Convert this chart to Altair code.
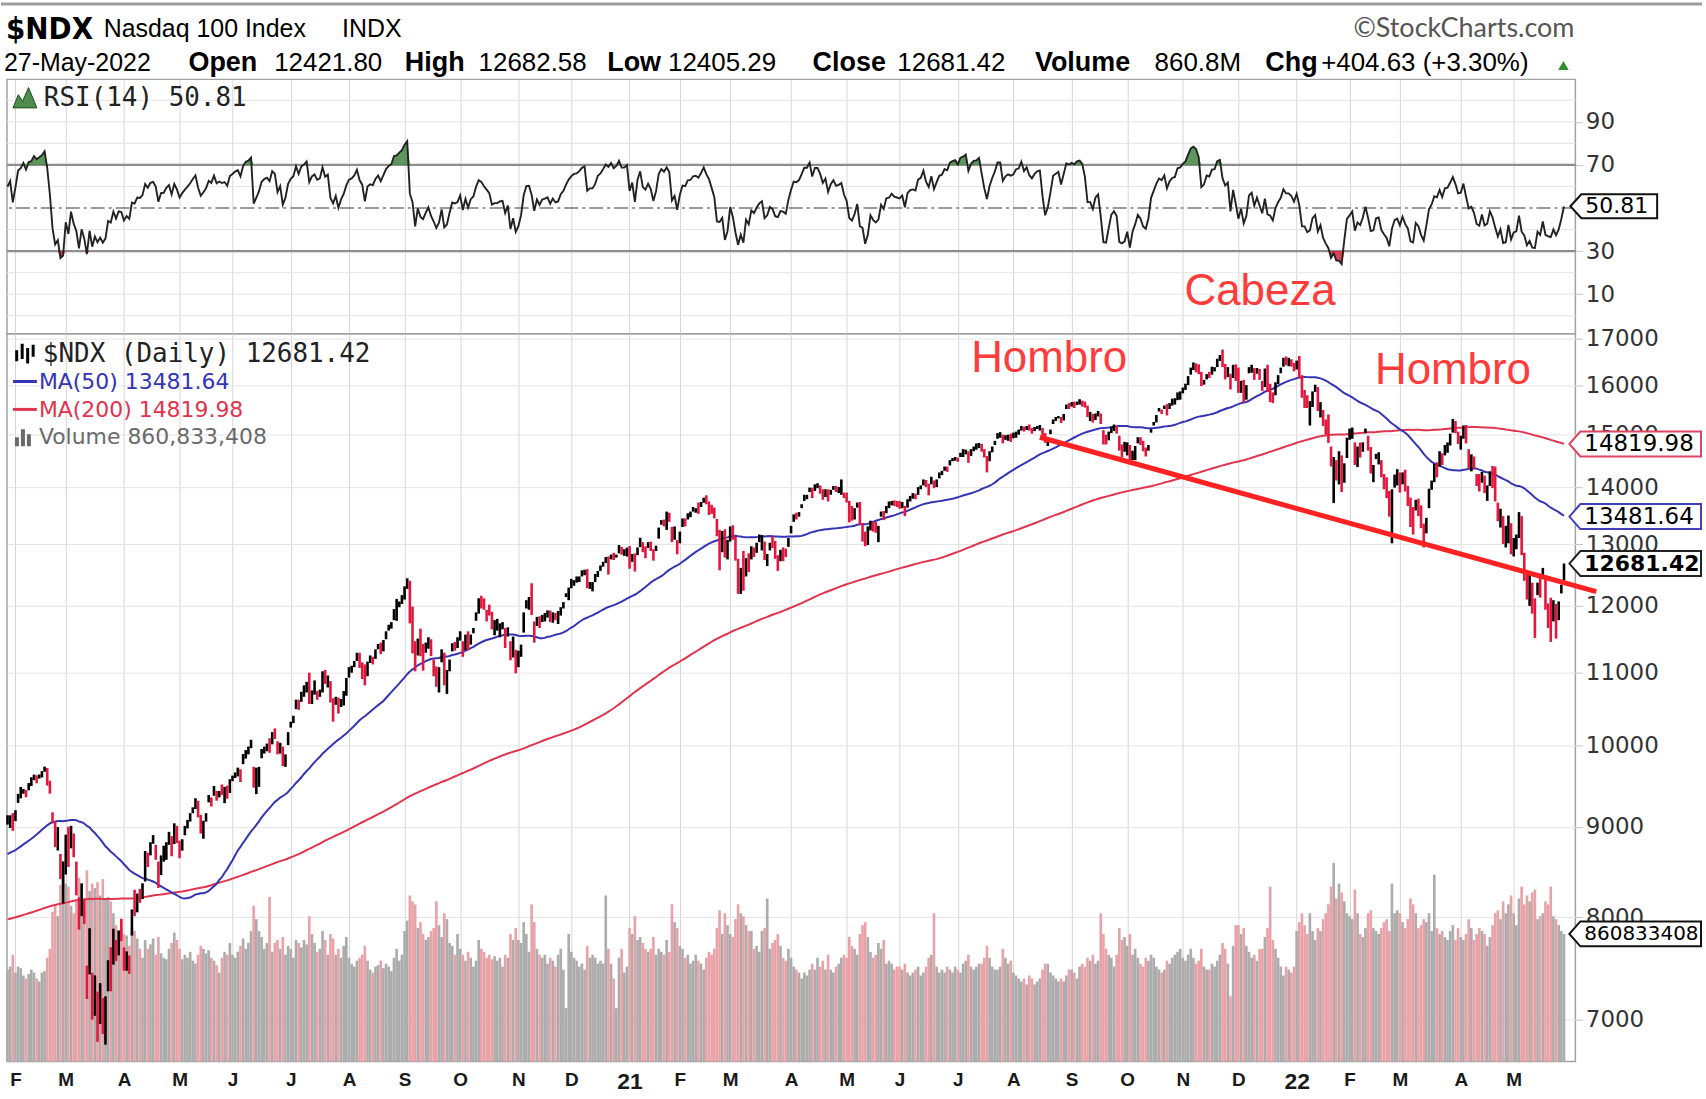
import altair as alt
import numpy as np
import pandas as pd

# ---------------- data (read / estimated from the reference) ----------------
# daily closes before the first visible bar (only used to warm up MA(50), MA(200), RSI(14))
CLOSE_PRE = [
    7485, 7518, 7576, 7570, 7602, 7614, 7567, 7602, 7596, 7628, 7624, 7646, 7637, 7658, 7678, 7785, 7758, 7780, 7827, 7846, 7781,
    7720, 7690, 7845, 7780, 7580, 7560, 7520, 7555, 7290, 7380, 7470, 7560, 7470, 7340, 7430, 7375, 7270, 7265, 7250, 7195, 7220, 7127,
    6978, 7166, 7250, 7300, 7420, 7490, 7500, 7470, 7510, 7470, 7520, 7620, 7650, 7730, 7700, 7680, 7560, 7620, 7650, 7671,
    7790, 7820, 7890, 7880, 7870, 7910, 7970, 7970, 8000, 8010, 7980, 7940, 7970, 7870, 7940, 7990, 8040, 7970, 8060, 8010, 7960, 7848,
    7800, 7700, 7460, 7570, 7600, 7770, 7720, 7630, 7780, 7540, 7560, 7680, 7780, 7720, 7790, 7770, 7530, 7620, 7600, 7620, 7720, 7692,
    7620, 7730, 7860, 7860, 7840, 7860, 7920, 7950, 7930, 7900, 7930, 7930, 7930, 7830, 7830, 7710, 7790, 7750, 7700, 7750,
    7650, 7530, 7630, 7750, 7720, 7590, 7680, 7720, 7810, 7800, 7900, 7880, 7910, 7840, 7890, 7830, 7850, 7920, 7970, 8050, 8020, 8040, 8083,
    8160, 8190, 8180, 8170, 8200, 8230, 8220, 8240, 8250, 8270, 8320, 8330, 8350, 8300, 8290, 8300, 8390, 8410, 8440, 8403,
    8310, 8250, 8300, 8310, 8390, 8360, 8380, 8420, 8440, 8480, 8570, 8570, 8570, 8640, 8680, 8700, 8700, 8770, 8760, 8680, 8733,
    8872, 8793, 8848, 8846, 8935, 9030, 9010, 9100, 9050, 9070, 9170, 9174, 9180, 9190, 9210, 9130, 8950, 9070,
]

# visible daily bars, 29-Jan-2020 .. 27-May-2022 (one line per month)
CLOSE = [
    9075, 9125, 8991,
    9126, 9334, 9368, 9445, 9402, 9517, 9529, 9613, 9595, 9623, 9656, 9718, 9627, 9446, 9080, 8804, 8845, 8436, 8462,
    8877, 8620, 9000, 8720, 8530, 7950, 8340, 7990, 7270, 7875, 7020, 7335, 7010, 7150, 6879, 6995, 7553, 7483, 7860, 7585, 7832, 7813,
    7490, 7630, 7530, 8060, 8030, 8240, 8230, 8320, 8710, 8620, 8800, 8832, 8730, 8380, 8640, 8650, 8800, 8880, 8690, 9000, 8890,
    8718, 8834, 8930, 9010, 9100, 9220, 9320, 9120, 8980, 9060, 9150, 9330, 9300, 9480, 9370, 9410, 9390, 9410, 9365, 9555,
    9600, 9650, 9680, 9620, 9824, 9925, 9950, 10020, 9490, 9590, 9710, 9900, 9960, 9990, 9950, 10160, 10130, 9910, 10020, 9760, 9880, 10160,
    10280, 10340, 10600, 10500, 10710, 10760, 10850, 10580, 10720, 10770, 10700, 10730, 11000, 10880, 10930, 10600, 10510, 10650, 10450, 10610, 10720, 10905,
    11040, 11070, 11140, 11280, 11150, 11090, 10850, 11150, 11200, 11190, 11320, 11400, 11330, 11460, 11600, 11680, 11720, 11940, 11960, 12040, 12110,
    12290, 12420, 11770, 11620, 11080, 11470, 11250, 11190, 11330, 11450, 11250, 11110, 10940, 11040, 11310, 10840, 10900, 11160, 11410, 11390, 11420,
    11580, 11270, 11540, 11340, 11550, 11620, 11890, 12090, 12060, 11980, 11920, 11860, 11650, 11680, 11680, 11710, 11720, 11530, 11650, 11200, 11380, 11052,
    11150, 11350, 11800, 12050, 12060, 11890, 11540, 11820, 11700, 11830, 11850, 11880, 11760, 11870, 11800, 11820, 11960, 12030, 12160, 12270,
    12350, 12400, 12410, 12460, 12530, 12560, 12300, 12340, 12340, 12410, 12550, 12590, 12670, 12760, 12740, 12810, 12770, 12810, 12900, 12850, 12850, 12888,
    12695, 12800, 12620, 12940, 13105, 12930, 12900, 13000, 12940, 12800, 12950, 13280, 13400, 13370, 13470, 13420, 13060, 13140, 12925,
    13200, 13400, 13390, 13520, 13530, 13610, 13620, 13600, 13690, 13807, 13740, 13690, 13600, 13500, 13160, 13150, 13200, 12800, 12910,
    13280, 13100, 12740, 12380, 12550, 12300, 12750, 12620, 12940, 12870, 13000, 13100, 13150, 12760, 12820, 13000, 12960, 12800, 12780, 12890, 12880, 12840, 13090,
    13300, 13500, 13490, 13540, 13680, 13850, 13850, 13990, 13820, 14040, 14040, 13970, 13860, 13950, 13780, 13930, 14010, 13940, 13960, 13990, 13860,
    13780, 13540, 13500, 13580, 13720, 13360, 13330, 12980, 13100, 13400, 13310, 13260, 13300, 13540, 13470, 13660, 13670, 13740, 13700, 13690,
    13680, 13720, 13580, 13780, 13830, 13840, 13830, 13990, 14020, 14140, 14040, 13990, 14160, 14030, 14140, 14250, 14270, 14370, 14360, 14500, 14530, 14550,
    14520, 14640, 14660, 14700, 14590, 14700, 14750, 14760, 14800, 14700, 14590, 14500, 14650, 14760, 14860, 15020, 15020, 14870, 14940, 14970, 14960,
    14980, 15050, 15060, 15160, 15100, 15150, 15100, 15080, 15130, 15160, 15170, 15010, 14850, 14920, 15070, 15290, 15320, 15350, 15250, 15400, 15590, 15580,
    15610, 15600, 15650, 15660, 15640, 15560, 15360, 15360, 15300, 15410, 15440, 15230, 14870, 14860, 15000, 15150, 15190, 15130, 14700, 14670, 14690,
    14790, 14470, 14660, 14760, 14890, 14830, 14690, 14650, 14780, 15100, 15230, 15380, 15490, 15470, 15570, 15410, 15550, 15620, 15640, 15830, 15850,
    15930, 15990, 16160, 16350, 16400, 16380, 16310, 16000, 16050, 16220, 16210, 16350, 16360, 16540, 16570, 16390, 16310, 16360, 15990, 16370, 16140,
    15850, 16040, 15710, 15850, 16330, 16400, 16120, 16330, 16150, 15960, 16330, 15920, 15880, 15750, 16050, 16200, 16320, 16570, 16480, 16480, 16430, 16320,
    16500, 16280, 15760, 15750, 15590, 15620, 15850, 15910, 15490, 15610, 15230, 15030, 14860, 14440, 14520, 14180, 14180, 14010, 14440, 14930,
    15020, 15120, 14500, 14710, 14620, 14810, 15110, 14760, 14280, 14300, 14620, 14640, 14210, 14040, 13890, 13540, 13960, 14200, 14240,
    14010, 14240, 14000, 13840, 13320, 13270, 13760, 13640, 13300, 13050, 13440, 13960, 14120, 14420, 14390, 14660, 14460, 14790, 14810, 15010, 15240, 15070, 14840,
    14860, 15170, 14850, 14520, 14570, 14400, 14050, 13990, 14270, 13920, 13960, 14280, 14100, 13770, 13430, 13600, 13030, 13050, 13480, 12855,
    13050, 13080, 13530, 12860, 12680, 12160, 12280, 11900, 11880, 12330, 12180, 12590, 11960, 11880, 11850, 12060, 11810, 11970, 12276.79, 12681.42,
]

# daily high minus close
HIGH_OFF = [
    60, 10, 170,
    70, 60, 110, 10, 40, 10, 70, 20, 30, 10, 20, 15, 90, 110, 90, 250, 150, 250, 140,
    30, 380, 10, 200, 70, 260, 20, 200, 240, 10, 420, 80, 250, 190, 320, 220, 10, 210, 20, 180, 30, 170,
    200, 20, 80, 20, 260, 10, 70, 40, 10, 80, 20, 70, 60, 220, 30, 130, 20, 60, 200, 40, 120,
    120, 20, 80, 70, 60, 10, 20, 190, 160, 10, 10, 50, 50, 10, 60, 20, 120, 70, 130, 20,
    20, 10, 40, 80, 70, 20, 40, 60, 240, 130, 20, 60, 30, 40, 150, 20, 100, 150, 20, 230, 10, 20,
    40, 60, 20, 120, 20, 60, 20, 420, 30, 120, 40, 30, 20, 160, 30, 280, 130, 10, 200, 20, 20, 20,
    40, 30, 30, 10, 140, 60, 270, 10, 50, 40, 20, 20, 110, 20, 10, 30, 30, 10, 150, 30, 60,
    20, 20, 630, 370, 380, 30, 400, 230, 110, 70, 240, 80, 150, 40, 30, 450, 140, 30, 20, 60, 100,
    30, 190, 20, 270, 10, 40, 10, 30, 100, 140, 20, 160, 260, 100, 120, 20, 30, 130, 20, 260, 150, 280,
    170, 60, 100, 40, 80, 470, 220, 10, 140, 30, 40, 50, 170, 30, 90, 100, 20, 30, 40, 20,
    80, 10, 60, 10, 40, 20, 290, 40, 40, 100, 10, 60, 40, 30, 60, 20, 90, 20, 90, 110, 70, 60,
    280, 40, 230, 10, 10, 110, 70, 40, 110, 120, 30, 10, 20, 60, 100, 130, 240, 170, 150,
    20, 50, 60, 20, 40, 40, 10, 130, 50, 10, 120, 60, 90, 140, 280, 100, 30, 460, 170,
    30, 230, 390, 380, 60, 590, 20, 230, 30, 80, 30, 70, 10, 290, 20, 30, 180, 260, 40, 20, 70, 90, 20,
    20, 20, 60, 20, 20, 20, 20, 10, 180, 20, 40, 70, 110, 20, 190, 30, 20, 90, 50, 160, 50,
    130, 220, 170, 50, 10, 380, 40, 240, 210, 10, 80, 130, 20, 30, 110, 10, 80, 20, 70, 70,
    80, 20, 90, 10, 20, 60, 60, 20, 20, 10, 100, 80, 40, 100, 10, 30, 40, 20, 30, 10, 20, 20,
    40, 10, 60, 10, 90, 20, 20, 70, 40, 120, 130, 90, 30, 10, 20, 10, 30, 130, 50, 30, 60,
    60, 10, 40, 10, 60, 20, 100, 50, 20, 10, 20, 120, 180, 30, 30, 10, 30, 20, 100, 10, 10, 50,
    40, 60, 10, 50, 40, 100, 220, 90, 110, 10, 30, 190, 220, 140, 60, 10, 10, 40, 280, 140, 170,
    60, 330, 30, 20, 60, 120, 190, 100, 20, 10, 20, 10, 40, 30, 10, 200, 80, 100, 90, 20, 20,
    20, 40, 30, 20, 80, 80, 130, 280, 60, 10, 70, 40, 20, 20, 70, 370, 140, 20, 250, 60, 300,
    520, 50, 400, 150, 50, 30, 240, 30, 190, 130, 20, 510, 150, 100, 10, 10, 50, 10, 130, 100, 120, 150,
    20, 340, 450, 150, 200, 50, 20, 100, 470, 40, 260, 270, 540, 330, 50, 330, 500, 590, 10, 10,
    100, 20, 350, 60, 230, 40, 10, 220, 480, 120, 10, 20, 300, 210, 300, 400, 10, 40, 100,
    270, 40, 330, 190, 500, 380, 20, 160, 380, 310, 20, 20, 10, 20, 80, 20, 180, 10, 40, 10, 70, 200, 220,
    120, 10, 340, 200, 50, 180, 200, 260, 20, 300, 80, 20, 300, 620, 300, 20, 460, 270, 20, 510,
    60, 90, 30, 630, 180, 350, 260, 470, 240, 40, 270, 20, 530, 160, 280, 30, 220, 100, 60, 1.16,
]

# daily close minus low
LOW_OFF = [
    50, 140, 40,
    60, 50, 30, 50, 50, 80, 40, 50, 70, 40, 60, 50, 130, 50, 40, 40, 120, 30, 320,
    420, 80, 250, 70, 300, 80, 330, 60, 80, 450, 20, 300, 210, 190, 10, 220, 290, 220, 340, 30, 220, 60,
    30, 170, 100, 250, 20, 190, 80, 130, 330, 80, 130, 30, 110, 70, 190, 50, 180, 90, 30, 200, 80,
    80, 110, 30, 30, 40, 60, 110, 10, 60, 200, 90, 40, 60, 110, 60, 60, 10, 130, 30, 150,
    50, 60, 70, 80, 60, 90, 60, 50, 20, 200, 230, 60, 60, 60, 40, 140, 40, 20, 120, 20, 150, 150,
    40, 40, 110, 20, 120, 100, 130, 20, 160, 80, 80, 70, 280, 40, 140, 20, 190, 100, 20, 90, 180, 230,
    110, 70, 60, 110, 80, 180, 30, 200, 60, 70, 120, 60, 60, 150, 110, 60, 70, 160, 190, 60, 80,
    190, 150, 40, 340, 60, 220, 10, 160, 40, 100, 10, 160, 140, 320, 160, 20, 200, 140, 100, 70, 60,
    110, 40, 210, 10, 140, 40, 120, 210, 100, 40, 160, 10, 10, 130, 60, 190, 80, 170, 120, 20, 160, 60,
    70, 120, 210, 90, 120, 30, 100, 130, 40, 80, 90, 60, 10, 130, 20, 100, 110, 70, 20, 180,
    70, 80, 40, 80, 60, 70, 20, 70, 110, 30, 90, 30, 40, 70, 240, 60, 30, 30, 50, 20, 40, 90,
    100, 90, 70, 120, 150, 60, 130, 60, 50, 70, 60, 180, 60, 60, 220, 30, 20, 60, 90,
    180, 100, 80, 90, 60, 40, 70, 70, 40, 80, 40, 180, 70, 50, 20, 580, 330, 20, 160,
    230, 20, 10, 190, 360, 60, 280, 80, 190, 80, 140, 60, 250, 20, 180, 100, 20, 40, 220, 170, 160, 50, 130,
    110, 110, 60, 60, 50, 90, 60, 70, 10, 100, 50, 80, 80, 120, 30, 60, 50, 20, 60, 120, 50,
    50, 160, 90, 150, 80, 20, 280, 10, 110, 160, 90, 60, 260, 60, 50, 120, 40, 60, 30, 40,
    60, 90, 90, 140, 80, 40, 40, 120, 50, 100, 30, 130, 100, 40, 130, 80, 40, 60, 70, 90, 40, 50,
    40, 70, 90, 80, 130, 110, 70, 50, 60, 30, 30, 220, 160, 100, 60, 100, 80, 40, 40, 90, 100,
    50, 110, 60, 80, 40, 60, 20, 60, 60, 50, 90, 40, 10, 140, 60, 80, 50, 30, 20, 120, 80, 70,
    50, 70, 60, 60, 80, 20, 10, 90, 60, 120, 80, 20, 60, 50, 110, 120, 120, 110, 10, 110, 20,
    190, 40, 150, 250, 60, 30, 10, 70, 90, 60, 50, 140, 30, 60, 60, 30, 40, 40, 40, 140, 150,
    100, 90, 160, 130, 80, 110, 80, 20, 40, 100, 60, 130, 70, 160, 60, 10, 190, 190, 80, 220, 50,
    10, 200, 70, 150, 80, 140, 10, 90, 40, 80, 370, 60, 230, 120, 260, 180, 70, 180, 60, 80, 40, 30,
    170, 140, 20, 220, 60, 440, 300, 50, 20, 270, 60, 30, 20, 50, 800, 50, 120, 90, 350, 380,
    120, 200, 80, 330, 60, 140, 80, 70, 20, 200, 90, 210, 20, 70, 80, 60, 940, 200, 200,
    100, 180, 70, 170, 20, 100, 170, 150, 20, 100, 250, 330, 160, 320, 200, 270, 40, 190, 160, 220, 200, 40, 20,
    150, 250, 20, 170, 270, 50, 20, 60, 180, 20, 200, 250, 110, 20, 30, 310, 20, 100, 460, 20,
    250, 160, 420, 40, 280, 60, 280, 20, 370, 160, 50, 130, 20, 220, 400, 300, 310, 190, 80, 276.13,
]

# daily volume, millions of shares
VOLUME_M = [
    620, 640, 720,
    600, 640, 630, 580, 560, 590, 620, 600, 560, 540, 600, 610, 700, 760, 1010, 1050, 980, 1190, 1300,
    1200, 1180, 1050, 1000, 1080, 1240, 1130, 1060, 1290, 1150, 1200, 1170, 1210, 1120, 1230, 1100, 1110, 1080, 1000, 920, 880, 900,
    860, 850, 780, 900, 880, 830, 760, 700, 820, 760, 790, 830, 720, 840, 730, 700, 690, 760, 800, 870, 820,
    760, 690, 720, 700, 740, 680, 660, 720, 780, 760, 730, 750, 700, 680, 650, 600, 700, 740, 720, 800,
    720, 700, 740, 780, 830, 760, 800, 880, 1050, 960, 880, 840, 760, 800, 1110, 740, 800, 820, 760, 840, 720, 780,
    760, 700, 820, 800, 770, 820, 790, 980, 860, 800, 740, 760, 880, 820, 720, 860, 830, 720, 760, 700, 780, 840,
    700, 660, 640, 680, 700, 720, 780, 680, 620, 600, 640, 650, 680, 630, 660, 640, 610, 700, 760, 680, 720,
    880, 950, 1120, 1080, 1060, 900, 940, 860, 820, 840, 880, 900, 1080, 920, 840, 1000, 960, 800, 780, 720, 860,
    760, 720, 680, 740, 700, 640, 680, 820, 760, 740, 700, 720, 690, 710, 680, 700, 640, 720, 700, 860, 820, 900,
    820, 800, 940, 860, 740, 1060, 940, 760, 720, 700, 720, 660, 700, 680, 640, 720, 760, 620, 360, 860,
    740, 700, 680, 640, 660, 620, 780, 700, 720, 700, 660, 680, 660, 1120, 760, 660, 560, 360, 700, 760, 600, 640,
    900, 860, 980, 820, 840, 800, 760, 740, 760, 840, 720, 760, 740, 720, 820, 740, 1060, 940, 900,
    780, 760, 700, 720, 660, 680, 720, 680, 660, 620, 700, 740, 720, 760, 900, 1020, 860, 1000, 920,
    860, 840, 960, 1060, 1000, 980, 920, 880, 880, 760, 780, 740, 880, 900, 1100, 760, 800, 820, 860, 780, 700, 680, 760,
    700, 640, 620, 600, 560, 600, 580, 620, 660, 620, 700, 640, 680, 620, 720, 620, 600, 640, 660, 700, 720,
    700, 840, 780, 760, 720, 860, 920, 940, 840, 740, 700, 720, 800, 760, 820, 660, 680, 660, 620, 640,
    640, 620, 660, 600, 580, 600, 620, 640, 580, 600, 640, 700, 720, 1000, 640, 600, 620, 600, 640, 620, 600, 640,
    620, 600, 660, 680, 720, 640, 620, 640, 660, 660, 700, 780, 700, 640, 620, 620, 640, 760, 700, 660, 680,
    600, 580, 560, 540, 560, 520, 580, 560, 520, 540, 560, 620, 660, 660, 600, 580, 560, 540, 560, 540, 580, 620,
    620, 600, 560, 640, 660, 640, 700, 680, 720, 660, 680, 1000, 860, 760, 720, 700, 640, 720, 900, 820, 840,
    780, 860, 720, 760, 700, 660, 640, 700, 680, 720, 700, 640, 620, 600, 620, 680, 660, 700, 720, 740, 760,
    700, 680, 720, 760, 700, 660, 680, 760, 640, 620, 620, 660, 640, 680, 720, 800, 760, 660, 440, 780, 920,
    920, 860, 900, 780, 740, 700, 720, 680, 760, 760, 840, 900, 1180, 820, 760, 700, 640, 580, 640, 620, 600, 640,
    880, 940, 1000, 920, 860, 1000, 880, 820, 900, 880, 960, 1000, 1060, 1180, 1340, 1100, 1200, 1140, 1080, 1000,
    980, 960, 1160, 1000, 860, 840, 900, 1000, 1020, 900, 880, 860, 900, 940, 960, 880, 1200, 1000, 1020,
    1000, 940, 900, 960, 1100, 1060, 1000, 900, 920, 960, 940, 1000, 880, 1260, 900, 860, 880, 840, 820, 880, 920, 820, 900,
    840, 820, 860, 960, 900, 820, 860, 900, 880, 860, 780, 840, 920, 1000, 1020, 960, 1080, 1000, 1060, 1120,
    1000, 920, 1100, 1180, 1060, 1120, 1080, 1140, 1160, 960, 980, 1000, 1080, 1060, 1180, 980, 960, 920, 880, 860.83,
]

# first trading day of each month (bar index) and its label
MONTH_IDX = [3, 22, 44, 65, 85, 107, 129, 150, 171, 193, 213, 235, 254, 273, 296, 317, 337, 359,
             380, 402, 423, 444, 465, 487, 507, 526, 549, 569]
MONTH_LABELS = ["F", "M", "A", "M", "J", "J", "A", "S", "O", "N", "D", "21", "F", "M", "A", "M", "J", "J",
                "A", "S", "O", "N", "D", "22", "F", "M", "A", "M"]
YEAR_IDX = [235, 487]

PRICE_TICKS = [7000, 8000, 9000, 10000, 11000, 12000, 13000, 14000, 15000, 16000, 17000]
RSI_TICKS = [10, 30, 70, 90]
RSI_GRID = [0, 10, 20, 40, 60, 80, 90, 100]
RSI_BANDS = [30, 70]
RSI_MID = [50]

# neckline drawn on the reference (bar index, price)
TREND_X = [390.0, 600.2]
TREND_Y = [14950, 12225]

LAST_RSI = 50.81
LAST_MA50 = 13481.64
LAST_MA200 = 14819.98
LAST_CLOSE = 12681.42
LAST_VOLUME = 860833408

TITLE_SYMBOL = "$NDX"
TITLE_NAME = "Nasdaq 100 Index"
TITLE_EXCH = "INDX"
COPYRIGHT = "\u00a9StockCharts.com"
QUOTE_DATE = "27-May-2022"
QUOTE_KEYS = ["Open", "High", "Low", "Close", "Volume", "Chg"]
QUOTE_VALS = ["12421.80", "12682.58", "12405.29", "12681.42", "860.8M", "+404.63 (+3.30%)"]
ANNOT = ["Hombro", "Cabeza", "Hombro"]

# ---------------- derived table ----------------
assert len(CLOSE) == len(HIGH_OFF) == len(LOW_OFF) == len(VOLUME_M), (
    len(CLOSE), len(HIGH_OFF), len(LOW_OFF), len(VOLUME_M))

s = pd.Series(CLOSE_PRE + CLOSE, dtype=float)
n0 = len(CLOSE_PRE)
ma50 = s.rolling(50).mean()
ma200 = s.rolling(200).mean()
d = s.diff()
ag = d.clip(lower=0).ewm(alpha=1 / 14, adjust=False).mean()
al = (-d).clip(lower=0).ewm(alpha=1 / 14, adjust=False).mean()
rsi = 100 - 100 / (1 + ag / al)

c = np.array(CLOSE, dtype=float)
df = pd.DataFrame({
    "i": np.arange(len(CLOSE)),
    "close": c,
    "high": c + np.array(HIGH_OFF, dtype=float),
    "low": c - np.array(LOW_OFF, dtype=float),
    "prev": s.shift(1).values[n0:],
    "ma50": ma50.values[n0:],
    "ma200": ma200.values[n0:],
    "rsi": rsi.values[n0:],
    "vol": VOLUME_M,
})
df["up"] = df["close"] >= df["prev"]
df["x0"] = df["i"] - 0.5
df["x1"] = df["i"] + 0.5
df["rsi_hi"] = df["rsi"].clip(lower=70)
df["rsi_lo"] = df["rsi"].clip(upper=30)
df["b70"] = 70.0
df["b30"] = 30.0
up_df = df[df["up"]]
dn_df = df[~df["up"]]

ONE = pd.DataFrame({"k": [0]})

# ---------------- layout / style ----------------
PW = 1573            # plot width
RH = 255             # RSI panel height
PH = 730             # price panel height
XMIN, XMAX = -0.2, 592.3

SANS = "Liberation Sans, Arial, sans-serif"
COND = "DejaVu Sans Condensed, Liberation Sans Narrow, Liberation Sans, sans-serif"
DJV = "DejaVu Sans, Verdana, sans-serif"
MONO = "DejaVu Sans Mono, monospace"

UP_C = "#000000"
DN_C = "#e3173e"
VOL_UP = "#acacac"
VOL_DN = "#e9a3a8"
BLUE = "#3434b4"
RED_MA = "#e0344f"
ANNOT_C = "#ff3c3c"
HGRID = "#e4e4e4"
VGRID = "#d6d6d6"

XS = alt.Scale(domain=[XMIN, XMAX], nice=False, zero=False)
PS = alt.Scale(type="log", domain=[6628, 17111], nice=False)
RS = alt.Scale(domain=[-8.3, 109.7], nice=False, zero=False)
VS = alt.Scale(domain=[0, 4910], nice=False, zero=True)

label_expr = ("[" + ",".join("'%s'" % l for l in MONTH_LABELS) + "][indexof(["
              + ",".join(str(v) for v in MONTH_IDX) + "], datum.value)]")
year_test = " || ".join("datum.value == %d" % v for v in YEAR_IDX)

X_PRICE_AXIS = alt.Axis(values=MONTH_IDX, labelExpr=label_expr, title=None, grid=True,
                        gridColor=VGRID, gridWidth=1, ticks=False, domain=False,
                        labelPadding=9, labelFont=SANS,
                        labelFontSize={"condition": {"test": year_test, "value": 23}, "value": 19},
                        labelFontWeight="bold",
                        labelColor="#1a1a1a", labelFlush=False, labelOverlap=False)
X_RSI_AXIS = alt.Axis(values=MONTH_IDX, labels=False, ticks=False, domain=False, grid=True,
                      gridColor=VGRID, gridWidth=1, title=None)
Y_PRICE_AXIS = alt.Axis(orient="right", values=PRICE_TICKS, format="d", title=None, grid=True,
                        gridColor=HGRID, gridWidth=1, ticks=True, tickSize=7, tickColor="#c4c4c4",
                        domain=False, labelFont=DJV, labelFontSize=23, labelColor="#333333",
                        labelPadding=3, labelOverlap=False)
Y_RSI_AXIS = alt.Axis(orient="right", values=RSI_TICKS, title=None, grid=False, ticks=True, tickSize=7,
                      tickColor="#c4c4c4", domain=False, labelFont=DJV, labelFontSize=23,
                      labelColor="#333333", labelPadding=3, labelOverlap=False)


def text(s_, x, y, size, color="#000000", font=SANS, weight="normal", align="left"):
    return alt.Chart(ONE).mark_text(text=s_, font=font, fontSize=size, fontWeight=weight, color=color,
                                    align=align, baseline="alphabetic").encode(x=alt.value(x), y=alt.value(y))


def tag(value, label, yscale, border, x_tip, x_right, h=25, tip=11, fs=22, bold=False):
    w = x_right - x_tip
    hh = h / w
    a = -1 + 2.0 * tip / w
    path = "M-1,0L%.4f,%.4fL1,%.4fL1,%.4fL%.4f,%.4fZ" % (a, -hh, -hh, hh, a, hh)
    tdf = pd.DataFrame({"v": [value]})
    yenc = alt.Y("v:Q", scale=yscale[0], axis=yscale[1])
    shape = alt.Chart(tdf).mark_point(shape=path, size=w * w, filled=True, fill="white", stroke=border,
                                      strokeWidth=2, opacity=1).encode(x=alt.value((x_tip + x_right) / 2), y=yenc)
    lab = alt.Chart(tdf).mark_text(text=label, font=DJV, fontSize=fs, fontWeight="bold" if bold else "normal",
                                   color="#000000", align="left", baseline="middle").encode(
        x=alt.value(x_tip + tip + 4), y=yenc)
    return [shape, lab]


# ---------------- RSI panel ----------------
rx = alt.X("i:Q", scale=XS, axis=X_RSI_AXIS)
rsi_layers = []
# top border of the picture
rsi_layers.append(alt.Chart(ONE).mark_rect(color="#9d9d9d").encode(
    x=alt.value(-6), x2=alt.value(1700), y=alt.value(-77), y2=alt.value(-74)))
# header lines
rsi_layers.append(text(TITLE_SYMBOL, -1, -40, 31, font=COND, weight="bold"))
rsi_layers.append(text(TITLE_NAME, 97, -42, 25))
rsi_layers.append(text(TITLE_EXCH, 336, -42, 25))
rsi_layers.append(text(COPYRIGHT, 1572, -42, 27, color="#555555", font="Lato, Open Sans, sans-serif", align="right"))
rsi_layers.append(text(QUOTE_DATE, -3, -8, 25))
key_x = [182, 399, 602, 808, 1031, 1262]
val_x = [268, 473, 663, 893, 1151, 1318]
for k, v, kx, vx in zip(QUOTE_KEYS, QUOTE_VALS, key_x, val_x):
    rsi_layers.append(text(k, kx, -8, 27, weight="bold"))
    rsi_layers.append(text(v, vx, -8, 26))
rsi_layers.append(alt.Chart(ONE).mark_point(shape="triangle-up", size=110, filled=True, fill="#2f8f2f",
                                            opacity=1).encode(x=alt.value(1561), y=alt.value(-14)))
# grid, bands
rsi_layers.append(alt.Chart(pd.DataFrame({"g": RSI_GRID})).mark_rule(color=HGRID, strokeWidth=1).encode(
    y=alt.Y("g:Q", scale=RS, axis=Y_RSI_AXIS)))
rsi_layers.append(alt.Chart(pd.DataFrame({"g": RSI_BANDS})).mark_rule(color="#8e8e8e", strokeWidth=2.2).encode(
    y=alt.Y("g:Q", scale=RS, axis=Y_RSI_AXIS)))
rsi_layers.append(alt.Chart(pd.DataFrame({"g": RSI_MID})).mark_rule(
    color="#7a7a7a", strokeWidth=1.6, strokeDash=[14, 4, 3, 4]).encode(y=alt.Y("g:Q", scale=RS, axis=Y_RSI_AXIS)))
# overbought / oversold fills
rsi_layers.append(alt.Chart(df).mark_area(color="#4d8c4d", opacity=0.9).encode(
    x=rx, y=alt.Y("rsi_hi:Q", scale=RS, axis=Y_RSI_AXIS), y2="b70:Q"))
rsi_layers.append(alt.Chart(df).mark_area(color="#d23044", opacity=0.9).encode(
    x=rx, y=alt.Y("rsi_lo:Q", scale=RS, axis=Y_RSI_AXIS), y2="b30:Q"))
rsi_layers.append(alt.Chart(df).mark_line(color="#222222", strokeWidth=1.9).encode(
    x=rx, y=alt.Y("rsi:Q", scale=RS, axis=Y_RSI_AXIS)))
rsi_layers += tag(LAST_RSI, "%.2f" % LAST_RSI, (RS, Y_RSI_AXIS), "#111111", 1568, 1655, h=24)
# header of the panel
rsi_layers.append(alt.Chart(ONE).mark_point(shape="M-1,0.8L-0.55,-0.3L-0.2,0.25L0.3,-0.9L1,0.8Z", size=24 * 24,
                                            filled=True, fill="#4d8c4d", stroke="#1f4f1f", strokeWidth=1,
                                            opacity=1).encode(x=alt.value(18), y=alt.value(19)))
rsi_layers.append(text("RSI(14) %.2f" % LAST_RSI, 37, 27, 26, color="#222222", font=MONO))
rsi_layers.append(text(ANNOT[1], 1181, 226, 44, color=ANNOT_C))

rsi_panel = alt.layer(*rsi_layers).properties(width=PW, height=RH)

# ---------------- price panel ----------------
px = alt.X("i:Q", scale=XS, axis=X_PRICE_AXIS)
vx0 = alt.X("x0:Q", scale=XS, axis=X_PRICE_AXIS)

vol_layers = [
    alt.Chart(up_df).mark_rect(color=VOL_UP).encode(x=vx0, x2="x1:Q",
                                                    y=alt.Y("vol:Q", scale=VS, axis=None), y2=alt.datum(0)),
    alt.Chart(dn_df).mark_rect(color=VOL_DN).encode(x=vx0, x2="x1:Q",
                                                    y=alt.Y("vol:Q", scale=VS, axis=None), y2=alt.datum(0)),
]
vol_layers += tag(LAST_VOLUME / 1e6, str(LAST_VOLUME), (VS, None), "#111111", 1567, 1699, fs=20)

trend_df = pd.DataFrame({"tx0": [TREND_X[0]], "tx1": [TREND_X[1]], "ty0": [TREND_Y[0]], "ty1": [TREND_Y[1]]})

price_layers = [
    alt.Chart(df).mark_line(color=RED_MA, strokeWidth=2).encode(x=px, y=alt.Y("ma200:Q", scale=PS, axis=Y_PRICE_AXIS)),
    alt.Chart(df).mark_line(color=BLUE, strokeWidth=2).encode(x=px, y=alt.Y("ma50:Q", scale=PS, axis=Y_PRICE_AXIS)),
    alt.Chart(up_df).mark_rule(color=UP_C, strokeWidth=2.6).encode(
        x=px, y=alt.Y("low:Q", scale=PS, axis=Y_PRICE_AXIS), y2="high:Q"),
    alt.Chart(dn_df).mark_rule(color=DN_C, strokeWidth=2.6).encode(
        x=px, y=alt.Y("low:Q", scale=PS, axis=Y_PRICE_AXIS), y2="high:Q"),
    alt.Chart(trend_df).mark_rule(color="#ff2222", strokeWidth=5).encode(
        x=alt.X("tx0:Q", scale=XS, axis=X_PRICE_AXIS), x2="tx1:Q",
        y=alt.Y("ty0:Q", scale=PS, axis=Y_PRICE_AXIS), y2="ty1:Q"),
]
price_layers += tag(LAST_MA200, "%.2f" % LAST_MA200, (PS, Y_PRICE_AXIS), "#dc4462", 1567, 1699, fs=23)
price_layers += tag(LAST_MA50, "%.2f" % LAST_MA50, (PS, Y_PRICE_AXIS), "#4040bc", 1567, 1699, fs=23)
price_layers += tag(LAST_CLOSE, "%.2f" % LAST_CLOSE, (PS, Y_PRICE_AXIS), "#222222", 1567, 1699, fs=22, bold=True)
# legend
price_layers.append(alt.Chart(ONE).mark_point(
    shape="M-0.75,-0.3L-0.75,0.7M-0.25,-0.9L-0.25,0.5M0.25,-0.5L0.25,0.9M0.75,-0.8L0.75,0.3",
    size=22 * 22, filled=False, stroke="#000000", strokeWidth=3, opacity=1).encode(x=alt.value(18), y=alt.value(20)))
price_layers.append(text("$NDX (Daily) %.2f" % LAST_CLOSE, 36, 28, 26, color="#222222", font=MONO))
price_layers.append(alt.Chart(ONE).mark_rule(color=BLUE, strokeWidth=3).encode(
    x=alt.value(6), x2=alt.value(30), y=alt.value(48)))
price_layers.append(text("MA(50) %.2f" % LAST_MA50, 32, 56, 22, color=BLUE, font=DJV))
price_layers.append(alt.Chart(ONE).mark_rule(color=RED_MA, strokeWidth=3).encode(
    x=alt.value(6), x2=alt.value(30), y=alt.value(76)))
price_layers.append(text("MA(200) %.2f" % LAST_MA200, 32, 84, 22, color=RED_MA, font=DJV))
price_layers.append(alt.Chart(ONE).mark_point(
    shape="M-0.9,1L-0.9,0.1L-0.5,0.1L-0.5,1ZM-0.3,1L-0.3,-0.7L0.1,-0.7L0.1,1ZM0.3,1L0.3,-0.2L0.7,-0.2L0.7,1Z",
    size=20 * 20, filled=True, fill="#6a6a6a", opacity=1).encode(x=alt.value(17), y=alt.value(103)))
price_layers.append(text("Volume {:,}".format(LAST_VOLUME), 32, 111, 22, color="#6a6a6a", font=DJV))
# annotations
price_layers.append(text(ANNOT[0], 967, 38, 44, color=ANNOT_C))
price_layers.append(text(ANNOT[2], 1372, 51, 44, color=ANNOT_C))

price_panel = alt.layer(alt.layer(*vol_layers), alt.layer(*price_layers)).resolve_scale(
    y="independent").properties(width=PW, height=PH)

chart = alt.vconcat(rsi_panel, price_panel, spacing=0, bounds="flush").properties(
    padding={"left": 0, "right": 0, "top": 0, "bottom": 0}, background="white"
).configure_view(stroke="#a2a2a2", strokeWidth=1.5)

chart.save("out.html", embed_options={"renderer": "svg", "actions": False})
